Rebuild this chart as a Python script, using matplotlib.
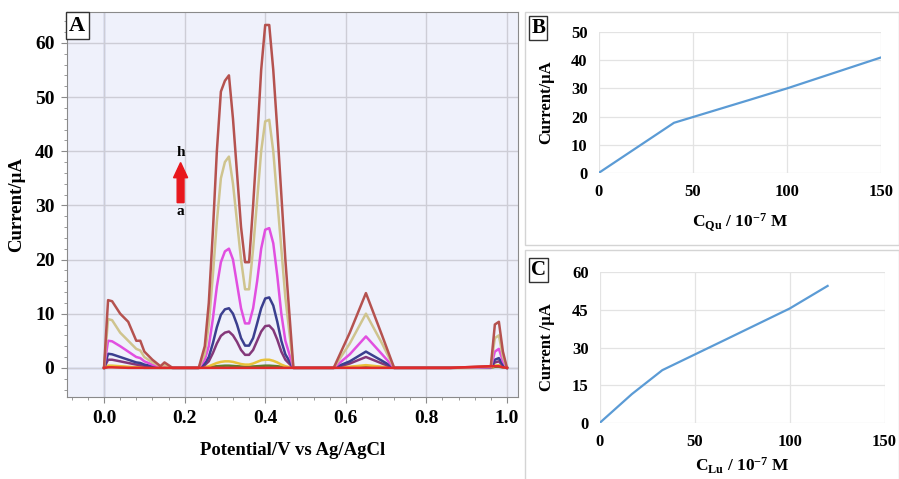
import matplotlib
matplotlib.use("Agg")
import matplotlib.pyplot as plt
from matplotlib.patches import Rectangle, FancyArrow
from matplotlib.ticker import MultipleLocator

plt.rcParams.update({
    'font.family': 'Liberation Serif',
    'font.weight': 'bold',
    'mathtext.fontset': 'custom',
    'mathtext.rm': 'Liberation Serif:bold',
    'mathtext.it': 'Liberation Serif:bold',
    'mathtext.bf': 'Liberation Serif:bold',
})

# Panel A: DPV curves a..h (current in uA vs potential in V)
potential = [0.00, 0.01, 0.02, 0.04, 0.06, 0.08, 0.09, 0.10, 0.12, 0.14, 0.15, 0.17,
             0.235, 0.25, 0.26, 0.27, 0.28, 0.29, 0.30, 0.31, 0.32, 0.33, 0.34, 0.35,
             0.36, 0.37, 0.38, 0.39, 0.40, 0.41, 0.42, 0.43, 0.44, 0.45, 0.47,
             0.57, 0.61, 0.65, 0.69, 0.72,
             0.86, 0.96, 0.97, 0.98, 0.99, 1.00]

cur_a = [0, 0.1, 0.1, 0.05, 0, 0, 0, 0, 0, 0, 0, 0,
         0, 0, 0, 0, 0, 0, 0, 0, 0, 0, 0, 0,
         0, 0, 0, 0, 0, 0, 0, 0, 0, 0, 0,
         0, 0, 0, 0, 0,
         0, 0.3, 0.3, 0.3, 0.1, 0]
cur_b = [0, 0.2, 0.2, 0.15, 0.1, 0.05, 0.05, 0, 0, 0, 0, 0,
         0, 0.05, 0.1, 0.2, 0.3, 0.35, 0.4, 0.4, 0.35, 0.3, 0.25, 0.2,
         0.2, 0.25, 0.3, 0.35, 0.4, 0.4, 0.35, 0.3, 0.2, 0.1, 0,
         0, 0.1, 0.3, 0.1, 0,
         0, 0, 0.2, 0.2, 0.1, 0]
cur_c = [0, 0.4, 0.4, 0.3, 0.2, 0.1, 0.1, 0.1, 0.05, 0, 0, 0,
         0, 0.1, 0.3, 0.6, 0.9, 1.1, 1.2, 1.2, 1.1, 0.9, 0.7, 0.6,
         0.6, 0.8, 1.1, 1.4, 1.5, 1.5, 1.3, 1.0, 0.6, 0.3, 0,
         0, 0.2, 0.5, 0.2, 0,
         0, 0, 0.4, 0.5, 0.2, 0]
cur_d = [0, 1.5, 1.5, 1.2, 0.9, 0.6, 0.5, 0.4, 0.2, 0.1, 0.1, 0,
         0, 0.5, 1.2, 2.7, 4.5, 5.9, 6.5, 6.7, 6.0, 4.8, 3.3, 2.4,
         2.4, 3.3, 5.0, 6.7, 7.7, 7.8, 7.0, 5.2, 3.0, 1.5, 0,
         0, 0.8, 2.0, 0.8, 0,
         0, 0.1, 1.0, 1.2, 0.4, 0]
cur_e = [0, 2.6, 2.5, 2.0, 1.5, 1.0, 0.9, 0.6, 0.3, 0.1, 0.1, 0,
         0, 0.8, 2.0, 4.5, 7.5, 9.8, 10.8, 11.0, 10.0, 8.0, 5.5, 4.1,
         4.1, 5.5, 8.2, 11.0, 12.8, 13.0, 11.5, 8.5, 5.0, 2.5, 0,
         0, 1.2, 3.0, 1.3, 0,
         0, 0.1, 1.5, 1.8, 0.6, 0]
cur_f = [0, 5.0, 4.9, 4.0, 3.0, 2.0, 1.8, 1.2, 0.6, 0.2, 0.3, 0,
         0, 1.5, 4.0, 9.0, 15.0, 19.5, 21.5, 22.0, 20.0, 15.5, 11.0, 8.2,
         8.2, 11.0, 16.0, 22.0, 25.5, 25.8, 23.0, 17.0, 10.0, 5.0, 0,
         0, 2.5, 5.8, 2.5, 0,
         0, 0.1, 3.0, 3.5, 1.2, 0]
cur_g = [0, 9.0, 8.8, 6.5, 5.0, 3.5, 3.2, 2.0, 1.0, 0.3, 0.5, 0,
         0, 2.5, 8.0, 17.0, 27.0, 35.0, 38.0, 39.0, 34.0, 27.0, 20.0, 14.5,
         14.5, 22.0, 31.0, 40.0, 45.5, 45.8, 40.0, 31.0, 22.0, 13.0, 0,
         0, 4.5, 10.0, 4.5, 0,
         0, 0.2, 5.5, 6.0, 2.0, 0]
cur_h = [0, 12.5, 12.3, 10.0, 8.5, 5.0, 5.0, 3.0, 1.5, 0.3, 1.0, 0,
         0, 4.0, 12.0, 25.0, 40.0, 51.0, 53.0, 54.0, 46.0, 36.0, 26.0, 19.5,
         19.5, 30.0, 42.0, 55.0, 63.3, 63.3, 55.0, 44.0, 32.0, 20.0, 0,
         0, 6.5, 13.8, 6.0, 0,
         0, 0.3, 8.0, 8.5, 3.0, 0]

curves = [cur_b, cur_c, cur_d, cur_e, cur_f, cur_g, cur_h, cur_a]
curve_colors = ["#5f7f2a", "#e8c23a", "#84387a", "#3b3f8f", "#e14fe0", "#cfc48e", "#b5524f", "#e02b2b"]

# Panel B: calibration for Qu
conc_qu = [0, 40, 80, 100, 150]
curr_qu = [0, 17.8, 25.9, 30.0, 41.0]

# Panel C: calibration for Lu
conc_lu = [0, 17, 33, 67, 100, 120]
curr_lu = [0, 11.5, 21.0, 33.4, 45.5, 54.5]

fig = plt.figure(figsize=(8.99, 4.79), dpi=100)
fig.patch.set_facecolor("white")

# ---------- Panel A ----------
ax = fig.add_axes([0.0745, 0.171, 0.5015, 0.804])
ax.set_facecolor("#eff1fb")
for cur, col in zip(curves, curve_colors):
    ax.plot(potential, cur, color=col, linewidth=1.8, zorder=3)

ax.set_xlim(-0.092, 1.027)
ax.set_ylim(-5.4, 65.7)
ax.set_xticks([0.0, 0.2, 0.4, 0.6, 0.8, 1.0])
ax.set_yticks([0, 10, 20, 30, 40, 50, 60])
ax.xaxis.set_minor_locator(MultipleLocator(0.04))
ax.yaxis.set_minor_locator(MultipleLocator(2))
ax.grid(True, color="#cdcdd6", linewidth=1.0, zorder=0)
ax.axvline(0, color="#a8b6e6", linewidth=1.0, zorder=1)
ax.axhline(0, color="#a8b6e6", linewidth=1.0, zorder=1)
for s in ax.spines.values():
    s.set_color("#8a8a8a")
ax.tick_params(which="major", length=4, color="#8a8a8a", labelsize=14, pad=5)
ax.tick_params(which="minor", length=2, color="#8a8a8a")
ax.set_xlabel("Potential/V vs Ag/AgCl", fontsize=13.5, fontweight="bold", labelpad=11)
ax.set_ylabel("Current/μA", fontsize=13.5, fontweight="bold", labelpad=7)

ax.text(0.005, 0.99, "A", transform=ax.transAxes, fontsize=16, fontweight="bold",
        va="top", ha="left",
        bbox=dict(boxstyle="square,pad=0.15", facecolor="white", edgecolor="#333333", linewidth=1))

ax.add_patch(FancyArrow(0.19, 30.5, 0, 4.6, width=0.017, head_width=0.035,
                        head_length=2.8, color="#e8171c", zorder=4))
ax.text(0.19, 39.7, "h", fontsize=11, fontweight="bold", ha="center", va="center")
ax.text(0.19, 28.8, "a", fontsize=11, fontweight="bold", ha="center", va="center")

# frames for B and C panels
fig.patches.append(Rectangle((0.584, 0.489), 0.416, 0.486, transform=fig.transFigure,
                             fill=False, edgecolor="#d4d4d4", linewidth=1))
fig.patches.append(Rectangle((0.584, -0.01), 0.416, 0.488, transform=fig.transFigure,
                             fill=False, edgecolor="#d4d4d4", linewidth=1))


def excel_axes(rect, x, y, ylim, ystep, ylabel, xlabel, letter, letter_y, xpad):
    axx = fig.add_axes(rect)
    axx.plot(x, y, color="#5b9bd5", linewidth=1.6, zorder=3)
    axx.set_xlim(0, 150)
    axx.set_ylim(0, ylim)
    axx.set_xticks([0, 50, 100, 150])
    axx.set_yticks(list(range(0, ylim + 1, ystep)))
    axx.grid(True, color="#e3e3e3", linewidth=0.9, zorder=0)
    for s in axx.spines.values():
        s.set_visible(False)
    axx.tick_params(length=0, labelsize=12, pad=8)
    axx.set_ylabel(ylabel, fontsize=12, fontweight="bold", labelpad=12)
    axx.set_xlabel(xlabel, fontsize=12.5, fontweight="bold", labelpad=xpad)
    fig.text(0.591, letter_y, letter, fontsize=15, fontweight="bold", ha="left", va="top",
             bbox=dict(boxstyle="square,pad=0.1", facecolor="white", edgecolor="#333333", linewidth=1))
    return axx


excel_axes([0.666, 0.639, 0.314, 0.294], conc_qu, curr_qu, 50, 10,
           "Current/μA", r"C$_{\mathrm{Qu}}$ / 10$^{\mathrm{-7}}$ M", "B", 0.962, 8)
excel_axes([0.667, 0.117, 0.317, 0.315], conc_lu, curr_lu, 60, 15,
           "Current /μA", r"C$_{\mathrm{Lu}}$ / 10$^{\mathrm{-7}}$ M", "C", 0.458, 4)

fig.savefig("out.png", dpi=100)
